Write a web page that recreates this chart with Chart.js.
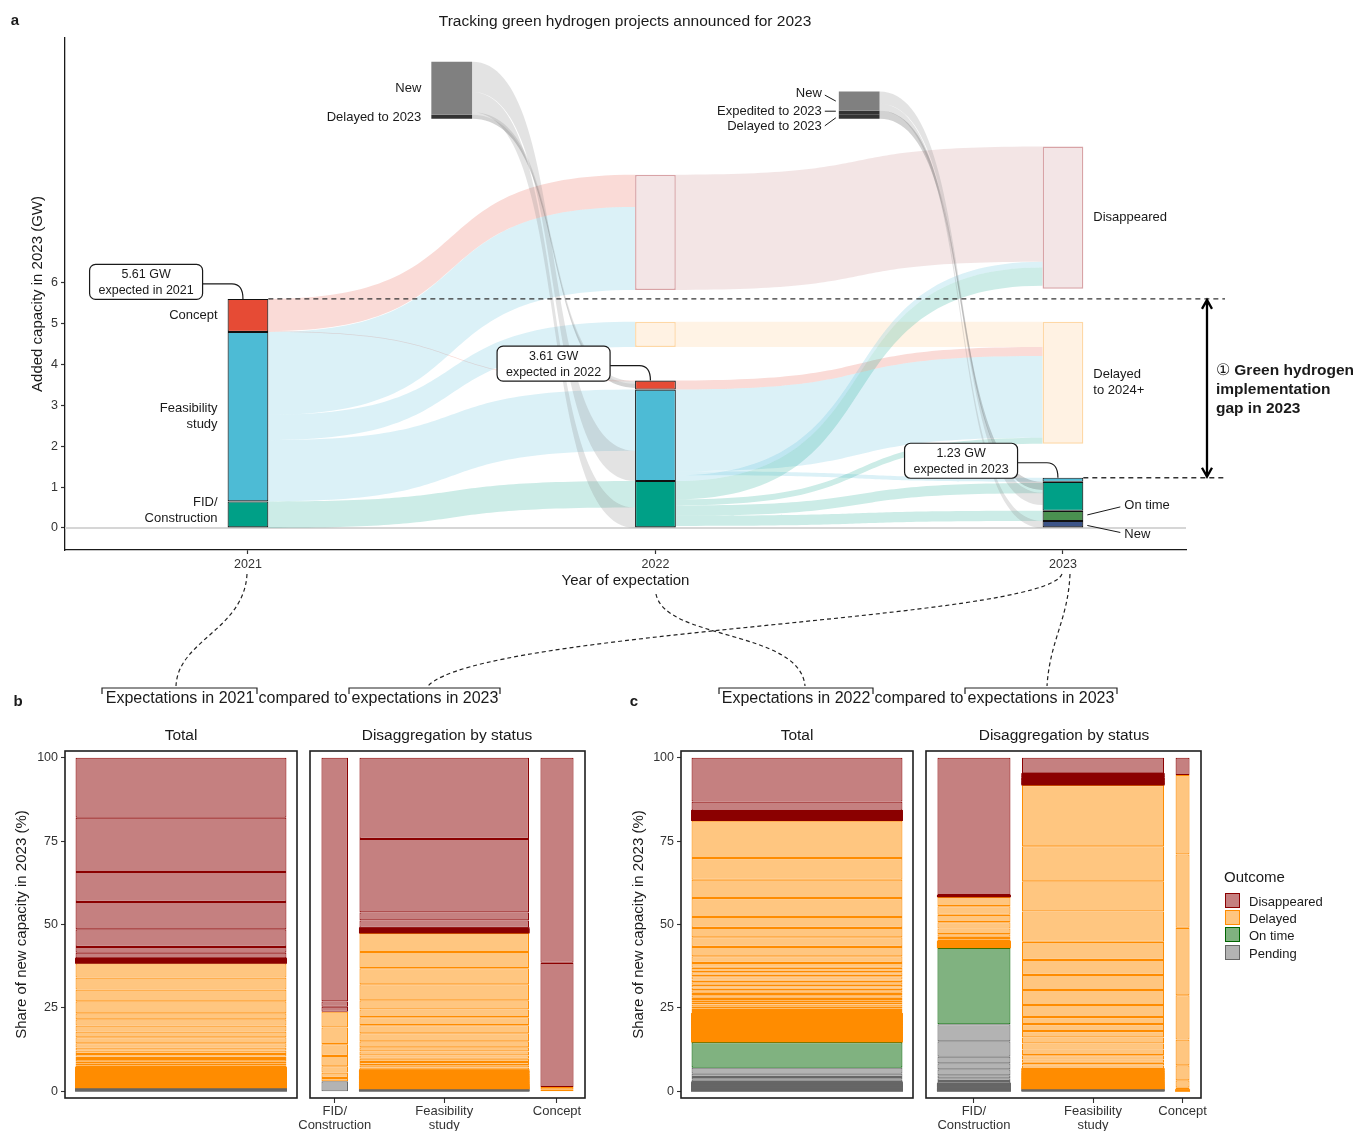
<!DOCTYPE html>
<html>
<head>
<meta charset="utf-8">
<title>Tracking green hydrogen projects announced for 2023</title>
<script src="https://cdn.jsdelivr.net/npm/chart.js@4.4.1/dist/chart.umd.min.js"></script>
<style>
  body { margin: 0; background: #fff; }
  #fig { position: relative; width: 1360px; height: 1131px; overflow: hidden;
         font-family: 'Liberation Sans', Arial, sans-serif; color: #1a1a1a; }
  #fig canvas, #fig svg { position: absolute; }
  .t { position: absolute; white-space: nowrap; line-height: 1; transform: translate(-50%, -50%); }
  .l { transform: translate(0, -50%); }
  .b { font-weight: bold; }
  .sw { position: absolute; width: 15px; height: 15px; box-sizing: border-box; border: 1.2px solid; }
</style>
</head>
<body>
<div id="fig">
  <canvas id="ca" width="1360" height="600" style="left:0;top:0"></canvas>
  <canvas id="cb1" width="300" height="391" style="left:0;top:740px"></canvas>
  <canvas id="cb2" width="315" height="391" style="left:285px;top:740px"></canvas>
  <canvas id="cc1" width="320" height="391" style="left:600px;top:740px"></canvas>
  <canvas id="cc2" width="310" height="391" style="left:910px;top:740px"></canvas>

  <svg width="1360" height="1131" style="left:0;top:0" fill="none" stroke="#222" stroke-width="1.2">
    <g stroke-dasharray="4 3">
      <path d="M247,574 C244,630 178,640 176,686"/>
      <path d="M1062,574 C1045,620 480,630 428,686"/>
      <path d="M656,594 C665,640 800,630 805,686"/>
      <path d="M1070,574 C1068,620 1050,640 1047,686"/>
    </g>
    <path d="M102,694 V688 H257 V694 M349,694 V688 H500 V694 M719,694 V688 H873 V694 M965,694 V688 H1117 V694"/>
  </svg>

  <div class="t b" style="left:15px;top:19px;font-size:15px">a</div>
  <div class="t" style="left:625px;top:21px;font-size:15.5px">Tracking green hydrogen projects announced for 2023</div>
  <div class="t l b" style="left:1216px;top:388px;font-size:15.5px;line-height:19px">
    <span style="font-weight:normal">&#9312;</span> Green hydrogen<br>implementation<br>gap in 2023</div>

  <div class="t b" style="left:18px;top:700px;font-size:15px">b</div>
  <div class="t" style="left:180px;top:698px;font-size:16px">Expectations in 2021</div>
  <div class="t" style="left:303px;top:698px;font-size:16px">compared to</div>
  <div class="t" style="left:425px;top:698px;font-size:16px">expectations in 2023</div>
  <div class="t" style="left:181px;top:735px;font-size:15.5px">Total</div>
  <div class="t" style="left:447px;top:735px;font-size:15.5px">Disaggregation by status</div>

  <div class="t b" style="left:634px;top:700px;font-size:15px">c</div>
  <div class="t" style="left:796px;top:698px;font-size:16px">Expectations in 2022</div>
  <div class="t" style="left:919px;top:698px;font-size:16px">compared to</div>
  <div class="t" style="left:1041px;top:698px;font-size:16px">expectations in 2023</div>
  <div class="t" style="left:797px;top:735px;font-size:15.5px">Total</div>
  <div class="t" style="left:1064px;top:735px;font-size:15.5px">Disaggregation by status</div>

  <div class="t l" style="left:1224px;top:876px;font-size:15px">Outcome</div>
  <div class="sw" style="left:1225px;top:893px;background:#c58080;border-color:#8b0000"></div>
  <div class="t l" style="left:1249px;top:901px;font-size:13px">Disappeared</div>
  <div class="sw" style="left:1225px;top:910px;background:#ffc680;border-color:#ff8c00"></div>
  <div class="t l" style="left:1249px;top:918px;font-size:13px">Delayed</div>
  <div class="sw" style="left:1225px;top:927px;background:#80b280;border-color:#006400"></div>
  <div class="t l" style="left:1249px;top:935px;font-size:13px">On time</div>
  <div class="sw" style="left:1225px;top:945px;background:#b3b3b3;border-color:#666666"></div>
  <div class="t l" style="left:1249px;top:953px;font-size:13px">Pending</div>
</div>

<script>
// ---------------- panel a: capacity expected for 2023 (GW) ----------------
const years = [2021, 2022, 2023];
const newGW = [0, 0, 0.17];
const onTimeGW = [0, 0, 0.25];
const fidGW = [0.65, 1.15, 0.71];
const feasGW = [4.15, 2.24, 0.10];
const conceptGW = [0.81, 0.22, 0];
const yTicksA = [0, 1, 2, 3, 4, 5, 6];

// outcome boxes (GW range) at 2022 and 2023
const boxYears = [2022, 2023];
const disapLow = [5.83, 5.86];
const disapHigh = [8.65, 9.34];
const delayLow = [4.43, 2.06];
const delayHigh = [5.05, 5.05];

// projects entering between the snapshots
const entryX = [2021.5, 2022.5];
const entryNewLow = [10.12, 10.22];
const entryNewHigh = [11.42, 10.69];
const entryExpLow = [null, 10.12];
const entryExpHigh = [null, 10.22];
const entryLateLow = [10.02, 10.02];
const entryLateHigh = [10.12, 10.12];

// flows: source x, target x, top at source, top at target, size (GW), kind
const flowFrom = [2022, 2022, 2021, 2021, 2021, 2021, 2021, 2021, 2022, 2022, 2022, 2022, 2022, 2022, 2022, 2022, 2021.5, 2021.5, 2021.5, 2021.5, 2022.5, 2022.5, 2022.5];
const flowTo   = [2023, 2023, 2022, 2022, 2022, 2022, 2022, 2022, 2023, 2023, 2023, 2023, 2023, 2023, 2023, 2023, 2022, 2022, 2022, 2022, 2023, 2023, 2023];
const flowSrc  = [8.65, 5.05, 5.61, 4.82, 4.80, 2.77, 2.15, 0.65, 3.61, 3.39, 1.39, 1.29, 1.15, 0.70, 0.55, 0.30, 11.42, 10.68, 10.18, 10.12, 10.69, 10.39, 10.22];
const flowDst  = [9.34, 5.05, 8.65, 3.61, 7.86, 5.05, 3.39, 1.15, 4.43, 4.21, 1.23, 6.52, 6.38, 2.21, 1.10, 0.42, 1.89, 0.50, 3.59, 3.53, 0.86, 0.17, 1.13];
const flowGW   = [2.82, 0.62, 0.79, 0.02, 2.03, 0.62, 1.50, 0.65, 0.22, 2.00, 0.10, 0.14, 0.45, 0.15, 0.25, 0.25, 0.74, 0.50, 0.06, 0.10, 0.30, 0.17, 0.20];
const flowKind = ['disap', 'delay', 'concept', 'concept', 'feas', 'feas', 'feas', 'fid', 'concept', 'feas', 'feas', 'feas', 'fid', 'fid', 'fid', 'fid', 'new', 'new', 'new', 'late', 'new', 'new', 'late'];

// ---------------- panels b and c: share of capacity (%) ----------------
const pctTicks = [0, 25, 50, 75, 100];
const statusLabels = [['FID/', 'Construction'], ['Feasibility', 'study'], ['Concept']];

const bTotalDis = [18.0, 16.3, 9.0, 8.2, 5.3, 1.7, 1.7, 0.4, 0.3, 0.3, 0.3, 0.2];
const bTotalDel = [4.3, 3.6, 3.5, 3.6, 1.8, 1.9, 1.8, 1.7, 1.8, 1.3, 0.9, 1.0, 0.8, 0.7, 0.7, 0.6, 0.6, 0.6, 0.5,
  0.4, 0.35, 0.35, 0.3, 0.3, 0.3, 0.28, 0.26, 0.25, 0.24, 0.22, 0.2, 0.2, 0.18, 0.17, 0.16, 0.15, 0.14, 0.13,
  0.12, 0.12, 0.11, 0.1, 0.1, 0.1, 0.09, 0.08, 0.08, 0.07, 0.07];
const bTotalPen = [0.3, 0.3, 0.25, 0.25];

const bFidDis = [72.9, 1.6, 1.5];
const bFidDel = [4.7, 5.0, 3.5, 3.1, 1.9, 1.6, 1.0];
const bFidPen = [3.0];
const bFeasDis = [24.2, 21.9, 2.4, 2.2, 0.4, 0.3, 0.3, 0.3, 0.2];
const bFeasDel = [5.7, 4.8, 4.8, 4.8, 2.7, 2.3, 2.4, 2.4, 2.4, 1.8, 1.2, 1.2, 1.0, 1.0, 0.9, 0.7, 0.7, 0.5,
  0.4, 0.38, 0.35, 0.32, 0.3, 0.3, 0.28, 0.26, 0.25, 0.24, 0.22, 0.2, 0.18, 0.17, 0.16, 0.15, 0.14, 0.13,
  0.12, 0.11, 0.1, 0.1, 0.09, 0.08, 0.07];
const bFeasPen = [0.3, 0.25, 0.25];
const bConDis = [61.5, 37.2];
const bConDel = [0.7, 0.6];

const cTotalDis = [13.2, 2.7, 0.4, 0.35, 0.3, 0.3, 0.3, 0.3, 0.28, 0.27, 0.25, 0.25];
const cTotalDel = [11.3, 6.5, 5.5, 5.7, 3.3, 2.8, 2.9, 2.8, 2.0, 1.5, 1.3, 1.2, 1.0, 0.8, 0.8, 0.8, 0.8, 0.8,
  0.7, 0.8, 0.7, 0.6, 0.7, 0.7, 0.6, 0.7, 0.7,
  0.3, 0.3, 0.28, 0.28, 0.26, 0.26, 0.25, 0.25, 0.24, 0.24, 0.24, 0.23, 0.23, 0.23, 0.22, 0.22, 0.22, 0.22,
  0.21, 0.21, 0.21, 0.21, 0.2, 0.2, 0.2, 0.2, 0.2, 0.19, 0.19, 0.19, 0.19, 0.18, 0.18, 0.18, 0.18, 0.17,
  0.17, 0.17, 0.16, 0.16];
const cTotalOn = [7.7];
const cTotalPen = [1.8, 1.0, 0.8, 0.7, 0.5, 0.3, 0.28, 0.26, 0.25, 0.24, 0.22, 0.2, 0.2, 0.18, 0.17];

const cFidDis = [41.2, 0.5];
const cFidDel = [2.8, 2.6, 2.2, 1.9, 1.7, 0.8, 0.7, 0.6, 0.5, 0.3, 0.28, 0.25, 0.22, 0.2, 0.15, 0.1];
const cFidOn = [22.9];
const cFidPen = [5.1, 4.6, 2.0, 1.8, 1.8, 0.9, 0.8, 0.7, 0.3, 0.3, 0.28, 0.26, 0.25, 0.24, 0.22, 0.2, 0.18, 0.17];
const cFeasDis = [4.7, 0.5, 0.5, 0.5, 0.3, 0.28, 0.26, 0.25, 0.24, 0.23, 0.22, 0.22];
const cFeasDel = [18.3, 10.5, 9.0, 9.1, 5.4, 4.5, 4.5, 4.5, 3.6, 2.1, 2.1, 1.9, 1.8, 1.8, 1.7, 1.3, 1.0, 0.8, 0.9,
  0.4, 0.38, 0.36, 0.34, 0.32, 0.3, 0.3, 0.28, 0.28, 0.26, 0.25, 0.24, 0.23, 0.22, 0.21, 0.2, 0.19, 0.18,
  0.17, 0.16, 0.15, 0.14, 0.13, 0.12, 0.11, 0.1];
const cFeasPen = [0.3, 0.25, 0.25];
const cConDis = [5.2];
const cConDel = [23.8, 22.0, 20.2, 13.3, 7.7, 4.5, 2.2, 0.6, 0.5];

// ---------------- drawing ----------------
const FONT = "'Liberation Sans', Arial, sans-serif";
Chart.defaults.font.family = FONT;
Chart.defaults.color = '#333';

const BAR_W = 0.1;   // stratum width, years
const GAP = 0.05;    // gap between mosaic columns, share units
const KNOT = 0.62;   // control point position of the flow curves

const flowColor = {
  disap: 'rgba(139,0,0,0.1)', delay: 'rgba(255,140,0,0.1)',
  concept: 'rgba(230,75,53,0.2)', feas: 'rgba(77,187,213,0.2)', fid: 'rgba(0,160,135,0.2)',
  new: 'rgba(128,128,128,0.22)', late: 'rgba(51,51,51,0.22)'
};

// bar x/width taken from the data (column share or stratum width) through the x scale
const widthFromData = {
  id: 'widthFromData',
  afterDatasetsUpdate(chart) {
    const xs = chart.scales.x;
    chart.data.datasets.forEach((ds, i) => {
      chart.getDatasetMeta(i).data.forEach((el, j) => {
        const p = ds.data[j];
        const w = p.w !== undefined ? p.w : BAR_W;
        const l = xs.getPixelForValue(p.x - w / 2), r = xs.getPixelForValue(p.x + w / 2);
        el.x = (l + r) / 2;
        el.width = r - l;
      });
    });
  }
};

const flowsPlugin = {
  id: 'flows',
  beforeDatasetsDraw(chart) {
    const { ctx, chartArea: ca, scales: { x, y } } = chart;
    ctx.save();
    const y0 = y.getPixelForValue(0);
    ctx.strokeStyle = '#d6d6d6';
    ctx.lineWidth = 2;
    ctx.beginPath(); ctx.moveTo(ca.left, y0); ctx.lineTo(ca.right, y0); ctx.stroke();
    flowFrom.forEach((fx, i) => {
      const x0 = x.getPixelForValue(fx + BAR_W / 2), x1 = x.getPixelForValue(flowTo[i] - BAR_W / 2);
      const a0 = y.getPixelForValue(flowSrc[i]), b0 = y.getPixelForValue(flowSrc[i] - flowGW[i]);
      const a1 = y.getPixelForValue(flowDst[i]), b1 = y.getPixelForValue(flowDst[i] - flowGW[i]);
      const c0 = x0 + (x1 - x0) * KNOT, c1 = x1 - (x1 - x0) * KNOT;
      ctx.beginPath();
      ctx.moveTo(x0, a0);
      ctx.bezierCurveTo(c0, a0, c1, a1, x1, a1);
      ctx.lineTo(x1, b1);
      ctx.bezierCurveTo(c1, b1, c0, b0, x0, b0);
      ctx.closePath();
      ctx.fillStyle = flowColor[flowKind[i]];
      ctx.fill();
    });
    ctx.restore();
  }
};

function rrect(ctx, x, y, w, h, r) {
  ctx.beginPath();
  if (ctx.roundRect) { ctx.roundRect(x, y, w, h, r); return; }
  ctx.moveTo(x + r, y); ctx.arcTo(x + w, y, x + w, y + h, r); ctx.arcTo(x + w, y + h, x, y + h, r);
  ctx.arcTo(x, y + h, x, y, r); ctx.arcTo(x, y, x + w, y, r); ctx.closePath();
}

const annotPlugin = {
  id: 'annotA',
  afterDatasetsDraw(chart) {
    const { ctx, chartArea: ca, scales: { x, y } } = chart;
    const totals = years.map((_, i) => newGW[i] + onTimeGW[i] + fidGW[i] + feasGW[i] + conceptGW[i]);
    const px = v => x.getPixelForValue(v), py = v => y.getPixelForValue(v);
    const mid = (lo, hi) => py((lo + hi) / 2);
    ctx.save();

    // dashed guides at the 2021 and 2023 totals, and the gap arrow
    const xEnd = ca.right + 39;
    ctx.setLineDash([5, 4]); ctx.lineWidth = 1.3; ctx.strokeStyle = '#333';
    [0, 2].forEach(i => {
      const yy = py(totals[i]);
      ctx.beginPath(); ctx.moveTo(px(years[i] + BAR_W / 2), yy); ctx.lineTo(xEnd, yy); ctx.stroke();
    });
    ctx.setLineDash([]);
    const ax = ca.right + 21, ya = py(totals[0]), yb = py(totals[2]);
    ctx.lineWidth = 2.3; ctx.strokeStyle = '#000';
    ctx.beginPath();
    ctx.moveTo(ax, ya + 1); ctx.lineTo(ax, yb - 1);
    ctx.moveTo(ax - 5, ya + 10); ctx.lineTo(ax, ya + 1); ctx.lineTo(ax + 5, ya + 10);
    ctx.moveTo(ax - 5, yb - 10); ctx.lineTo(ax, yb - 1); ctx.lineTo(ax + 5, yb - 10);
    ctx.stroke();

    // callouts with totals
    ctx.textAlign = 'center'; ctx.textBaseline = 'middle';
    ctx.font = '12.5px ' + FONT;
    years.forEach((yr, i) => {
      const left = px(yr - BAR_W / 2), cx = px(yr), top = py(totals[i]);
      const bw = 113, bh = 35, bx = left - 25 - bw, by = top - 34.5;
      ctx.lineWidth = 1.2; ctx.strokeStyle = '#1a1a1a';
      ctx.beginPath();
      ctx.moveTo(bx + bw, top - 15); ctx.lineTo(cx - 16, top - 15);
      ctx.bezierCurveTo(cx - 8, top - 15, cx - 5, top - 9, cx - 5, top);
      ctx.stroke();
      ctx.fillStyle = '#fff';
      rrect(ctx, bx, by, bw, bh, 6); ctx.fill(); ctx.stroke();
      ctx.fillStyle = '#1a1a1a';
      ctx.fillText(totals[i].toFixed(2) + ' GW', bx + bw / 2, by + 10.5);
      ctx.fillText('expected in ' + yr, bx + bw / 2, by + 26);
    });

    // stratum labels
    ctx.font = '13px ' + FONT;
    ctx.fillStyle = '#1a1a1a'; ctx.strokeStyle = '#1a1a1a'; ctx.lineWidth = 1;
    ctx.textAlign = 'right';
    let lx = px(years[0] - BAR_W / 2) - 10, m;
    ctx.fillText('Concept', lx, mid(fidGW[0] + feasGW[0], totals[0]));
    m = mid(fidGW[0], fidGW[0] + feasGW[0]);
    ctx.fillText('Feasibility', lx, m - 8); ctx.fillText('study', lx, m + 8);
    m = mid(0, fidGW[0]) - 4;
    ctx.fillText('FID/', lx, m - 8); ctx.fillText('Construction', lx, m + 8);

    lx = px(entryX[0] - BAR_W / 2) - 10;
    ctx.fillText('New', lx, mid(entryNewLow[0], entryNewHigh[0]));
    ctx.fillText('Delayed to 2023', lx, mid(entryLateLow[0], entryLateHigh[0]) + 1);

    const nl = px(entryX[1] - BAR_W / 2);
    lx = nl - 17;
    const mN = mid(entryNewLow[1], entryNewHigh[1]), mE = mid(entryExpLow[1], entryExpHigh[1]), mL = mid(entryLateLow[1], entryLateHigh[1]);
    ctx.fillText('New', lx, mN - 8);
    ctx.fillText('Expedited to 2023', lx, mE - 1.5);
    ctx.fillText('Delayed to 2023', lx, mL + 10);
    ctx.beginPath();
    ctx.moveTo(nl - 14, mN - 6); ctx.lineTo(nl - 3, mN);
    ctx.moveTo(nl - 14, mE - 1.5); ctx.lineTo(nl - 3, mE - 1.5);
    ctx.moveTo(nl - 14, mL + 9); ctx.lineTo(nl - 3, mL + 1);
    ctx.stroke();

    ctx.textAlign = 'left';
    const rx = px(years[2] + BAR_W / 2);
    ctx.fillText('Disappeared', rx + 10, mid(disapLow[1], disapHigh[1]));
    m = mid(delayLow[1], delayHigh[1]);
    ctx.fillText('Delayed', rx + 10, m - 8); ctx.fillText('to 2024+', rx + 10, m + 8);
    const mOn = mid(newGW[2], newGW[2] + onTimeGW[2]), mNew = mid(0, newGW[2]);
    ctx.fillText('On time', rx + 41, mOn - 10);
    ctx.fillText('New', rx + 41, mNew + 10);
    ctx.beginPath();
    ctx.moveTo(rx + 4, mOn - 1); ctx.lineTo(rx + 37, mOn - 9);
    ctx.moveTo(rx + 4, mNew + 1); ctx.lineTo(rx + 37, mNew + 8);
    ctx.stroke();
    ctx.restore();
  }
};

function datasetsA() {
  const parts = [
    { vals: newGW, color: '#3c5488' },
    { vals: onTimeGW, color: '#4a9150' },
    { vals: fidGW, color: '#00a087' },
    { vals: feasGW, color: '#4dbbd5' },
    { vals: conceptGW, color: '#e64b35' }
  ];
  const base = years.map(() => 0);
  const sets = parts.map(p => {
    const data = [];
    years.forEach((yr, i) => {
      if (p.vals[i] > 0) data.push({ x: yr, y: [base[i], base[i] + p.vals[i]] });
      base[i] += p.vals[i];
    });
    return { data, backgroundColor: p.color, borderColor: '#111', borderWidth: 1.1, inflateAmount: 0 };
  });
  const span = (xs, lo, hi) => xs.map((x, i) => ({ x, y: [lo[i], hi[i]] })).filter(p => p.y[0] !== null);
  sets.push({ data: span(boxYears, disapLow, disapHigh), backgroundColor: '#f3e5e6', borderColor: '#d8a3a6', borderWidth: 1.5, inflateAmount: 0 });
  sets.push({ data: span(boxYears, delayLow, delayHigh), backgroundColor: '#fff2e3', borderColor: '#fed8a6', borderWidth: 1.5, inflateAmount: 0 });
  sets.push({ data: span(entryX, entryNewLow, entryNewHigh), backgroundColor: '#808080', borderWidth: 0 });
  sets.push({ data: span(entryX, entryExpLow, entryExpHigh), backgroundColor: '#333333', borderWidth: 0 });
  sets.push({ data: span(entryX, entryLateLow, entryLateHigh), backgroundColor: '#333333', borderWidth: 0 });
  sets.forEach(s => { s.borderSkipped = false; s.grouped = false; });
  return sets;
}

new Chart(document.getElementById('ca'), {
  type: 'bar',
  data: { datasets: datasetsA() },
  options: {
    responsive: false,
    animation: false,
    layout: { padding: { top: 38, right: 174, left: 0, bottom: 0 } },
    plugins: { legend: { display: false }, tooltip: { enabled: false } },
    scales: {
      x: {
        type: 'linear', min: 2020.551, max: 2023.302, offset: false,
        afterFit: s => { s.height = 50; s.paddingLeft = 0; s.paddingRight = 0; },
        afterBuildTicks: s => { s.ticks = years.map(v => ({ value: v })); },
        grid: { offset: false, drawOnChartArea: false, tickLength: 4, color: '#333', tickWidth: 1.2 },
        border: { color: '#1a1a1a', width: 1.3 },
        ticks: { autoSkip: false, maxRotation: 0, padding: 3, color: '#333', font: { size: 12.5 }, callback: v => String(v) },
        title: { display: true, text: 'Year of expectation', color: '#1a1a1a', font: { size: 15 }, padding: { top: 0, bottom: 10 } }
      },
      y: {
        min: -0.54, max: 12,
        afterFit: s => { s.width = 65; s.paddingTop = 0; s.paddingBottom = 0; },
        afterBuildTicks: s => { s.ticks = yTicksA.map(v => ({ value: v })); },
        grid: { drawOnChartArea: false, tickLength: 4, color: '#333', tickWidth: 1.2 },
        border: { color: '#1a1a1a', width: 1.3 },
        ticks: { padding: 3, color: '#333', font: { size: 12.5 } },
        title: { display: true, text: 'Added capacity in 2023 (GW)', color: '#1a1a1a', font: { size: 15 }, padding: { top: 29, bottom: 0 } }
      }
    }
  },
  plugins: [widthFromData, flowsPlugin, annotPlugin]
});

// ---------------- mosaic panels ----------------
const OUTCOMES = [
  { label: 'Disappeared', fill: '#c58080', line: '#8b0000' },
  { label: 'Delayed', fill: '#ffc680', line: '#ff8c00' },
  { label: 'On time', fill: '#80b280', line: '#006400' },
  { label: 'Pending', fill: '#b3b3b3', line: '#666666' }
];

const panelBox = {
  id: 'panelBox',
  afterDatasetsDraw(chart) {
    const { ctx, chartArea: a } = chart;
    ctx.save();
    ctx.strokeStyle = '#1f1f1f'; ctx.lineWidth = 1.6;
    ctx.strokeRect(a.left, a.top, a.right - a.left, a.bottom - a.top);
    ctx.restore();
  }
};

// very thin projects are drawn as solid outline colour, as in the original
const thin = c => !!(c.raw && c.raw.y && (c.raw.y[1] - c.raw.y[0]) < 0.55);

function mosaic(cols) {
  const total = cols.reduce((s, c) => s + c.share, 0);
  const sets = OUTCOMES.map(o => ({
    label: o.label, data: [],
    backgroundColor: c => (thin(c) ? o.line : o.fill),
    borderColor: o.line,
    borderWidth: c => (thin(c) ? 0 : 1.1),
    inflateAmount: c => (thin(c) ? 0.5 : 0),
    borderSkipped: false, grouped: false
  }));
  const centers = [];
  let left = GAP;
  cols.forEach(c => {
    const w = c.share / total;
    const sum = c.parts.reduce((s, seg) => s + seg.reduce((a, v) => a + v, 0), 0);
    let top = 100;
    c.parts.forEach((segs, k) => segs.forEach(v => {
      const h = v * 100 / sum;
      sets[k].data.push({ x: left + w / 2, y: [top - h, top], w });
      top -= h;
    }));
    centers.push(left + w / 2);
    left += w + GAP;
  });
  return { sets, centers };
}

function mosaicChart(id, cols, o) {
  const { sets, centers } = mosaic(cols);
  return new Chart(document.getElementById(id), {
    type: 'bar',
    data: { datasets: sets },
    options: {
      responsive: false,
      animation: false,
      layout: { padding: o.pad },
      plugins: { legend: { display: false }, tooltip: { enabled: false } },
      scales: {
        x: {
          type: 'linear', min: 0, max: 1 + (cols.length + 1) * GAP, offset: false,
          display: !!o.labels,
          afterFit: s => { s.height = 33; s.paddingLeft = 0; s.paddingRight = 0; },
          afterBuildTicks: s => { s.ticks = centers.map(v => ({ value: v })); },
          grid: { offset: false, drawOnChartArea: false, tickLength: 5, color: '#333', tickWidth: 1.1 },
          border: { display: false },
          ticks: { autoSkip: false, maxRotation: 0, padding: 1, color: '#333', font: { size: 13, lineHeight: 1.1 },
                   callback: (v, i) => (o.labels ? o.labels[i] : '') }
        },
        y: {
          min: -2, max: 102,
          display: !!o.yWidth,
          afterFit: s => { s.width = o.yWidth || 0; s.paddingTop = 0; s.paddingBottom = 0; },
          afterBuildTicks: s => { s.ticks = pctTicks.map(v => ({ value: v })); },
          grid: { drawOnChartArea: false, tickLength: 4, color: '#333', tickWidth: 1.1 },
          border: { display: false },
          ticks: { padding: 3, color: '#333', font: { size: 12.5 } },
          title: { display: true, text: 'Share of new capacity in 2023 (%)', color: '#1a1a1a', font: { size: 15 },
                   padding: { top: o.titlePad || 0, bottom: 0 } }
        }
      }
    },
    plugins: [widthFromData, panelBox]
  });
}

mosaicChart('cb1', [{ share: 1, parts: [bTotalDis, bTotalDel, [], bTotalPen] }],
  { pad: { top: 11, right: 3, bottom: 0, left: 0 }, yWidth: 65, titlePad: 13 });
mosaicChart('cb2', [
  { share: fidGW[0], parts: [bFidDis, bFidDel, [], bFidPen] },
  { share: feasGW[0], parts: [bFeasDis, bFeasDel, [], bFeasPen] },
  { share: conceptGW[0], parts: [bConDis, bConDel, [], []] }
], { pad: { top: 11, right: 15, bottom: 0, left: 25 }, labels: statusLabels });

mosaicChart('cc1', [{ share: 1, parts: [cTotalDis, cTotalDel, cTotalOn, cTotalPen] }],
  { pad: { top: 11, right: 7, bottom: 0, left: 0 }, yWidth: 81, titlePad: 30 });
mosaicChart('cc2', [
  { share: fidGW[1], parts: [cFidDis, cFidDel, cFidOn, cFidPen] },
  { share: feasGW[1], parts: [cFeasDis, cFeasDel, [], cFeasPen] },
  { share: conceptGW[1], parts: [cConDis, cConDel, [], []] }
], { pad: { top: 11, right: 19, bottom: 0, left: 16 }, labels: statusLabels });
</script>
</body>
</html>
